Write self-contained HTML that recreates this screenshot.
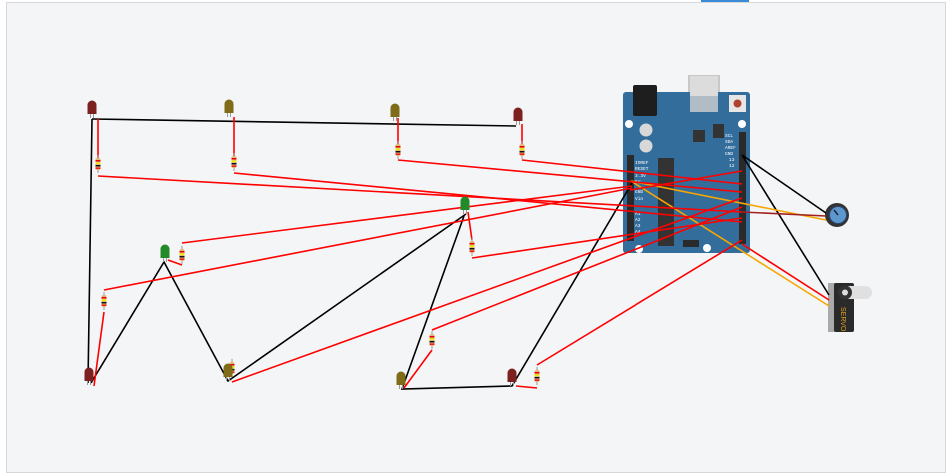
<!DOCTYPE html>
<html><head><meta charset="utf-8"><style>
html,body{margin:0;padding:0;background:#fff;}
svg{display:block;font-family:"Liberation Mono",monospace;}
</style></head><body>
<svg width="950" height="475" viewBox="0 0 950 475" xmlns="http://www.w3.org/2000/svg">
<defs>
<g id="res">
<line x1="0" y1="-9" x2="0" y2="9" stroke="#999" stroke-width="1"/>
<rect x="-2.5" y="-6" width="5" height="12" rx="2" fill="#e0b97a"/>
<rect x="-2.5" y="-4" width="5" height="1.5" fill="#e00"/>
<rect x="-2.5" y="-1.5" width="5" height="1.5" fill="#ee0"/>
<rect x="-2.5" y="1" width="5" height="1.5" fill="#111"/>
<rect x="-2.5" y="3.5" width="5" height="1.3" fill="#e00"/>
</g>
<g id="led"><line x1="-1.5" y1="4" x2="-1.5" y2="10" stroke="#999"/><line x1="1.5" y1="4" x2="1.5" y2="10" stroke="#999"/><path d="M-4.5,6 V-3 A4.5,4.5 0 0 1 4.5,-3 V6 Z"/></g>
</defs>
<rect x="0" y="0" width="950" height="475" fill="#fff"/>
<rect x="6.5" y="2.5" width="939" height="470" fill="#f4f5f7" stroke="#d6d8db"/>
<rect x="701" y="0" width="48" height="2" fill="#3b8ad8"/>

<!-- Arduino -->
<g>
<rect x="688" y="75" width="32" height="36" fill="#c8c8c8"/>
<rect x="623" y="92" width="127" height="161" rx="3" fill="#336d9c"/>
<rect x="633" y="85" width="24" height="31" rx="2" fill="#1e1e1e"/>
<rect x="690" y="76" width="28" height="36" fill="#dcdcdc"/>
<rect x="690" y="96" width="28" height="16" fill="#2a5a85" opacity="0.25"/>
<rect x="729" y="95" width="17" height="17" fill="#e6e6e6"/><circle cx="737.5" cy="103.5" r="4" fill="#b04030"/>
<circle cx="629" cy="124" r="4" fill="#fff"/><circle cx="742" cy="124" r="4" fill="#fff"/>
<circle cx="639" cy="249" r="4" fill="#fff"/><circle cx="707" cy="248" r="4" fill="#fff"/>
<circle cx="646" cy="130" r="6.5" fill="#d8d8d8"/><circle cx="646" cy="146" r="6.5" fill="#d8d8d8"/>
<rect x="693" y="130" width="12" height="12" fill="#333"/>
<rect x="713" y="124" width="11" height="14" fill="#333"/>
<rect x="658" y="158" width="16" height="88" fill="#333"/>
<rect x="627" y="155" width="7" height="86" fill="#2a2a2a"/>
<rect x="739" y="132" width="7" height="112" fill="#2a2a2a"/>
<rect x="683" y="240" width="16" height="7" fill="#2a2a2a"/>
<g font-size="4.5" fill="#fff"><text x="635" y="164">IOREF</text><text x="635" y="170">RESET</text><text x="635" y="177">3.3V</text><text x="635" y="183">5V</text><text x="635" y="193">GND</text><text x="635" y="200">Vin</text><text x="635" y="215">A1</text><text x="635" y="221">A2</text><text x="635" y="227">A3</text><text x="635" y="233">A4</text>
<text x="725" y="137">SCL</text><text x="725" y="143">SDA</text><text x="725" y="149">AREF</text><text x="725" y="155">GND</text><text x="729" y="161">13</text><text x="729" y="167">12</text></g>
</g>

<!-- pot -->
<circle cx="837" cy="215" r="12" fill="#333"/><circle cx="838" cy="215" r="8.5" fill="#5d97d0" stroke="#2a4a70"/>
<line x1="838" y1="215" x2="834" y2="210" stroke="#223" stroke-width="1.5"/>
<!-- servo -->
<rect x="828" y="283" width="7" height="49" fill="#aaa"/>
<rect x="834" y="283" width="20" height="49" rx="2" fill="#2a2a2a"/>
<rect x="842" y="286" width="30" height="13" rx="6.5" fill="#e0e0e0"/><circle cx="845" cy="292.5" r="7" fill="#333"/><circle cx="845" cy="292.5" r="3" fill="#ddd"/>
<text x="0" y="0" font-size="7" fill="#e8a020" font-family="Liberation Sans,sans-serif" transform="translate(841,307) rotate(90)">SERVO</text>

<!-- black wires -->
<g stroke="#000" stroke-width="1.6" fill="none">
<polyline points="92,119 516,126"/>
<polyline points="92,119 88,383"/>
<polyline points="91,383 164,262 228,381 466,214"/>
<polyline points="464,216 402,389 512,386 632,183"/>
<line x1="742" y1="155" x2="826" y2="213"/>
<line x1="742" y1="155" x2="829" y2="295"/>
</g>
<!-- orange -->
<g stroke="#f7a600" stroke-width="1.6"><line x1="631" y1="181" x2="826" y2="220"/><line x1="631" y1="181" x2="829" y2="306"/></g>
<!-- red -->
<g stroke="#f00" stroke-width="1.6" fill="none">
<polyline points="98,119 98,160"/>
<polyline points="98,176 742,212"/>
<polyline points="234,117 234,156"/>
<polyline points="234,173 742,222"/>
<polyline points="398,118 398,146"/>
<polyline points="398,160 742,192"/>
<polyline points="522,124 522,146"/>
<polyline points="522,160 742,184"/>
<polyline points="182,243 632,186"/>
<polyline points="168,260 182,265"/>
<polyline points="468,212 472,240"/>
<polyline points="472,258 742,218"/>
<polyline points="104,290 632,188"/>
<polyline points="104,312 94,386"/>
<polyline points="232,382 742,198"/>
<polyline points="404,388 432,350"/>
<polyline points="432,330 742,207"/>
<polyline points="537,365 742,240"/>
<polyline points="516,386 537,388"/>
<line x1="829" y1="300" x2="742" y2="244"/>
<line x1="742" y1="171" x2="630" y2="190"/>
</g>
<line x1="742" y1="212" x2="826" y2="216" stroke="#a02020" stroke-width="1.6"/>

<!-- resistors -->
<use href="#res" x="98" y="164"/><use href="#res" x="234" y="162"/><use href="#res" x="398" y="150"/><use href="#res" x="522" y="150"/>
<use href="#res" x="182" y="255"/><use href="#res" x="472" y="247"/><use href="#res" x="104" y="301"/><use href="#res" x="432" y="340"/><use href="#res" x="537" y="376"/><use href="#res" x="232" y="368"/>
<!-- LEDs -->
<use href="#led" x="92" y="108" fill="#7c2020"/><use href="#led" x="518" y="115" fill="#7c2020"/><use href="#led" x="89" y="375" fill="#7c2020"/><use href="#led" x="512" y="376" fill="#7c2020"/>
<use href="#led" x="229" y="107" fill="#806c18"/><use href="#led" x="395" y="111" fill="#806c18"/><use href="#led" x="228" y="371" fill="#806c18"/><use href="#led" x="401" y="379" fill="#806c18"/>
<use href="#led" x="165" y="252" fill="#238a2a"/><use href="#led" x="465" y="204" fill="#238a2a"/>
</svg>
</body></html>
